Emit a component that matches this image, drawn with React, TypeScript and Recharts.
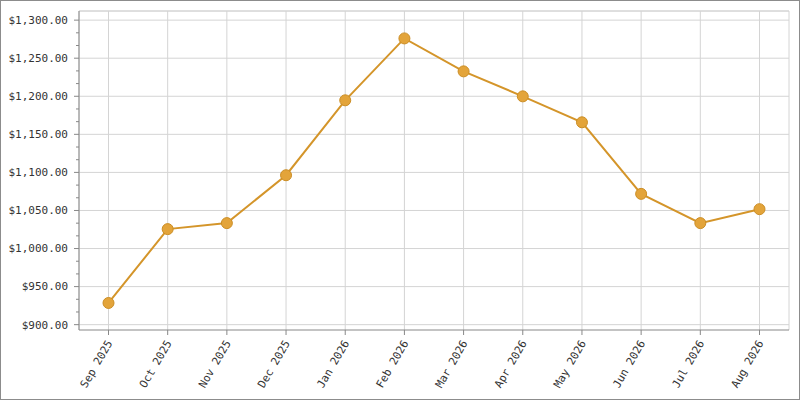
import { LineChart, Line, XAxis, YAxis, CartesianGrid, ReferenceLine } from "recharts";

const months = ["Sep 2025", "Oct 2025", "Nov 2025", "Dec 2025", "Jan 2026", "Feb 2026", "Mar 2026", "Apr 2026", "May 2026", "Jun 2026", "Jul 2026", "Aug 2026"];
const prices = [928.5, 1025.5, 1033.4, 1096.3, 1194.7, 1276, 1232.7, 1199.9, 1165.8, 1071.8, 1033.4, 1051.7];
const majorTicks = [900, 950, 1000, 1050, 1100, 1150, 1200, 1250, 1300];
const minorTicks = [916.67, 933.33, 966.67, 983.33, 1016.67, 1033.33, 1066.67, 1083.33, 1116.67, 1133.33, 1166.67, 1183.33, 1216.67, 1233.33, 1266.67, 1283.33];
const yMin = 893;
const yMax = 1312;

const data = months.map((m, i) => ({ month: m, price: prices[i] }));
const allTicks = [...majorTicks, ...minorTicks].sort((a, b) => a - b);

const font = "'DejaVu Sans Mono', monospace";

const money = (v: number) =>
  "$" + v.toLocaleString("en-US", { minimumFractionDigits: 2, maximumFractionDigits: 2 });

function YTick({ x, y, payload }: any) {
  const major = majorTicks.includes(payload.value);
  return (
    <g>
      <line x1={x - (major ? 5 : 3)} y1={y} x2={x} y2={y} stroke="#888" />
      {major && (
        <text x={x - 11} y={y} dy="0.35em" textAnchor="end" fontSize={11} fontFamily={font} fill="#333">
          {money(payload.value)}
        </text>
      )}
    </g>
  );
}

function XTick({ x, y, payload }: any) {
  const tx = x + 1;
  const ty = y + 6;
  return (
    <text x={tx} y={ty} dy="0.35em" textAnchor="end" fontSize={11} fontFamily={font} fill="#333"
      transform={`rotate(-60, ${tx}, ${ty})`}>
      {payload.value}
    </text>
  );
}

export default function App() {
  return (
    <div style={{ position: "absolute", left: 0, top: 0, width: 800, height: 400, boxSizing: "border-box", border: "1px solid #8c8c8c", background: "#fff" }}>
      <LineChart width={798} height={398} data={data} margin={{ top: 10, right: 10, left: 0, bottom: 0 }}>
        <CartesianGrid stroke="#d4d4d4" horizontalValues={[...majorTicks, yMax]} />
        <XAxis dataKey="month" padding={{ left: 29.5, right: 29.5 }} height={69} interval={0}
          tickSize={5} tickMargin={0} stroke="#888" tick={<XTick />} />
        <YAxis type="number" domain={[yMin, yMax]} allowDataOverflow ticks={allTicks} interval={0}
          width={78} tickSize={0} tickMargin={0} tickLine={false} stroke="#888" tick={<YTick />} />
        <YAxis yAxisId="frame" orientation="right" type="number" domain={[yMin, yMax]} allowDataOverflow
          width={0} tick={false} tickLine={false} stroke="#d4d4d4" />
        <ReferenceLine y={yMax} stroke="#d4d4d4" />
        <Line type="linear" dataKey="price" stroke="#D4952A" strokeWidth={2}
          dot={{ r: 5.5, fill: "#E3A43A", stroke: "#CC8E25", strokeWidth: 1 }}
          activeDot={false} isAnimationActive={false} />
      </LineChart>
    </div>
  );
}
